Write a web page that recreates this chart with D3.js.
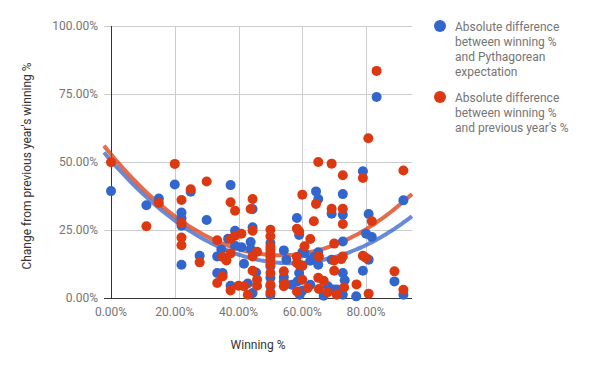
<!DOCTYPE html>
<html>
<head>
<meta charset="utf-8">
<script src="https://cdn.jsdelivr.net/npm/d3@7"></script>
<style>
body { margin: 0; background: #fff; }
svg { font-family: Roboto, Arial, sans-serif; }
</style>
</head>
<body>
<svg width="600" height="371"></svg>
<script>
// [winning %, change]
var pythagDiff = [
    [0, 0.393], [0.111, 0.341], [0.15, 0.366], [0.2, 0.417], [0.221, 0.314],
    [0.221, 0.293], [0.221, 0.266], [0.221, 0.122], [0.25, 0.391], [0.278, 0.155],
    [0.3, 0.287], [0.333, 0.153], [0.333, 0.092], [0.346, 0.178], [0.35, 0.092],
    [0.367, 0.218], [0.375, 0.415], [0.375, 0.045], [0.389, 0.247], [0.389, 0.192],
    [0.409, 0.187], [0.417, 0.126], [0.429, 0.053], [0.438, 0.206], [0.438, 0.18],
    [0.444, 0.327], [0.444, 0.26], [0.444, 0.018], [0.455, 0.094], [0.5, 0.202],
    [0.5, 0.116], [0.5, 0.074], [0.5, 0.043], [0.5, 0.012], [0.542, 0.175],
    [0.55, 0.141], [0.542, 0.077], [0.542, 0.061], [0.567, 0.049], [0.583, 0.294],
    [0.59, 0.232], [0.59, 0.092], [0.585, 0.061], [0.6, 0.168], [0.6, 0.119],
    [0.6, 0.027], [0.592, 0.012], [0.607, 0.165], [0.625, 0.137], [0.625, 0.049],
    [0.636, 0.151], [0.643, 0.392], [0.65, 0.364], [0.65, 0.168], [0.65, 0.122],
    [0.667, 0.008], [0.68, 0.043], [0.692, 0.31], [0.692, 0.141], [0.696, 0.031],
    [0.708, 0.031], [0.727, 0.382], [0.727, 0.306], [0.727, 0.208], [0.727, 0.092],
    [0.733, 0.065], [0.727, 0.012], [0.769, 0.006], [0.79, 0.466], [0.79, 0.1],
    [0.8, 0.236], [0.808, 0.309], [0.808, 0.141], [0.818, 0.224], [0.833, 0.739],
    [0.889, 0.061], [0.917, 0.359], [0.917, 0.012]
];
var prevYearDiff = [
    [0, 0.499], [0.111, 0.264], [0.15, 0.349], [0.2, 0.493], [0.221, 0.36],
    [0.221, 0.277], [0.221, 0.222], [0.221, 0.194], [0.25, 0.40], [0.278, 0.131],
    [0.3, 0.428], [0.333, 0.212], [0.333, 0.055], [0.35, 0.151], [0.35, 0.079],
    [0.362, 0.138], [0.375, 0.352], [0.375, 0.217], [0.375, 0.164], [0.375, 0.028],
    [0.389, 0.321], [0.389, 0.229], [0.4, 0.045], [0.409, 0.236], [0.417, 0.043],
    [0.429, 0.012], [0.438, 0.327], [0.444, 0.364], [0.444, 0.247], [0.444, 0.153],
    [0.444, 0.1], [0.458, 0.17], [0.458, 0.067], [0.458, 0.045], [0.5, 0.251],
    [0.5, 0.227], [0.5, 0.188], [0.5, 0.178], [0.5, 0.165], [0.5, 0.153],
    [0.5, 0.141], [0.5, 0.122], [0.5, 0.092], [0.5, 0.049], [0.5, 0.021],
    [0.542, 0.098], [0.545, 0.053], [0.542, 0.043], [0.583, 0.255], [0.59, 0.245],
    [0.583, 0.151], [0.583, 0.129], [0.59, 0.122], [0.6, 0.119], [0.583, 0.024],
    [0.6, 0.38], [0.6, 0.067], [0.607, 0.19], [0.617, 0.037], [0.625, 0.217],
    [0.636, 0.282], [0.643, 0.346], [0.65, 0.5], [0.652, 0.153], [0.65, 0.074],
    [0.652, 0.033], [0.667, 0.063], [0.68, 0.021], [0.692, 0.494], [0.692, 0.328],
    [0.7, 0.2], [0.7, 0.138], [0.7, 0.1], [0.708, 0.012], [0.727, 0.451],
    [0.727, 0.328], [0.727, 0.272], [0.727, 0.153], [0.722, 0.143], [0.731, 0.039],
    [0.77, 0.05], [0.79, 0.441], [0.79, 0.155], [0.8, 0.147], [0.807, 0.587],
    [0.808, 0.016], [0.818, 0.282], [0.833, 0.835], [0.889, 0.098], [0.917, 0.469],
    [0.917, 0.03]
];
// polynomial trendlines (a + b*x + c*x^2)
var pythagTrend = [0.505, -1.34, 1.19];
var prevYearTrend = [0.528, -1.40, 1.32];

var seriesNames = [
    ["Absolute difference", "between winning %", "and Pythagorean", "expectation"],
    ["Absolute difference", "between winning %", "and previous year's %"]
];
var colors = ["#3366cc", "#dc3912"];
var xTicks = [0, 0.2, 0.4, 0.6, 0.8];
var yTicks = [0, 0.25, 0.5, 0.75, 1];

var svg = d3.select("svg");
var chart = {left: 104, right: 412, top: 26, bottom: 298};

var x = d3.scaleLinear().domain([-0.022, 0.944]).range([chart.left, chart.right]);
var y = d3.scaleLinear().domain([0, 1]).range([chart.bottom, chart.top]);
var fmt = d3.format(".2%");

var g = svg.append("g");

// gridlines
g.selectAll(".hgrid")
    .data(yTicks.filter(function(d) {return d > 0}))
    .enter().append("line")
    .attr("x1", chart.left).attr("x2", chart.right)
    .attr("y1", function(d) {return Math.round(y(d)) + 0.5})
    .attr("y2", function(d) {return Math.round(y(d)) + 0.5})
    .style("stroke", "#cccccc");

g.selectAll(".vgrid")
    .data(xTicks.filter(function(d) {return d > 0}))
    .enter().append("line")
    .attr("x1", function(d) {return Math.round(x(d)) + 0.5})
    .attr("x2", function(d) {return Math.round(x(d)) + 0.5})
    .attr("y1", chart.top).attr("y2", chart.bottom)
    .style("stroke", "#cccccc");

// baselines
g.append("line")
    .attr("x1", chart.left).attr("x2", chart.right)
    .attr("y1", Math.round(y(0)) + 0.5).attr("y2", Math.round(y(0)) + 0.5)
    .style("stroke", "#333");
g.append("line")
    .attr("x1", Math.round(x(0)) + 0.5).attr("x2", Math.round(x(0)) + 0.5)
    .attr("y1", chart.top).attr("y2", chart.bottom)
    .style("stroke", "#333");

// tick labels
g.selectAll(".ylab")
    .data(yTicks)
    .enter().append("text")
    .attr("x", 98)
    .attr("y", function(d) {return y(d) + 4})
    .attr("text-anchor", "end")
    .style("font-size", "12px")
    .style("fill", "#757575")
    .text(fmt);

g.selectAll(".xlab")
    .data(xTicks)
    .enter().append("text")
    .attr("x", function(d) {return x(d)})
    .attr("y", 316)
    .attr("text-anchor", "middle")
    .style("font-size", "12px")
    .style("fill", "#757575")
    .text(fmt);

// axis titles
svg.append("text")
    .attr("x", (chart.left + chart.right) / 2)
    .attr("y", 349)
    .attr("text-anchor", "middle")
    .style("font-size", "12px")
    .style("fill", "#333")
    .text("Winning %");

svg.append("text")
    .attr("transform", "translate(31," + 166 + ") rotate(-90)")
    .attr("text-anchor", "middle")
    .style("font-size", "12px")
    .style("fill", "#333")
    .text("Change from previous year's winning %");

// trendlines
var trend = d3.line()
    .curve(d3.curveBasis)
    .x(function(d) {return x(d[0])})
    .y(function(d) {return y(d[1])});

var series = [pythagDiff, prevYearDiff];
var trends = [pythagTrend, prevYearTrend];

trends.forEach(function(c, i) {
    var dom = x.domain();
    var pts = d3.range(0, 61).map(function(k) {
        var xv = dom[0] + (dom[1] - dom[0]) * k / 60;
        return [xv, c[0] + c[1] * xv + c[2] * xv * xv];
    });
    g.append("path")
        .attr("d", trend(pts))
        .style("fill", "none")
        .style("stroke", colors[i])
        .style("stroke-width", 4)
        .style("opacity", 0.75);
});

series.forEach(function(data, i) {
    g.selectAll(".pt" + i)
        .data(data)
        .enter().append("circle")
        .attr("cx", function(d) {return x(d[0])})
        .attr("cy", function(d) {return y(d[1])})
        .attr("r", 5)
        .style("fill", colors[i]);
});

// legend
var legend = svg.append("g");
var legendTop = [26, 97];
seriesNames.forEach(function(lines, i) {
    legend.append("circle")
        .attr("cx", 440)
        .attr("cy", legendTop[i])
        .attr("r", 6)
        .style("fill", colors[i]);
    lines.forEach(function(t, k) {
        legend.append("text")
            .attr("x", 455)
            .attr("y", legendTop[i] + 4.5 + k * 15)
            .style("font-size", "12px")
            .style("fill", "#757575")
            .text(t);
    });
});
</script>
</body>
</html>
